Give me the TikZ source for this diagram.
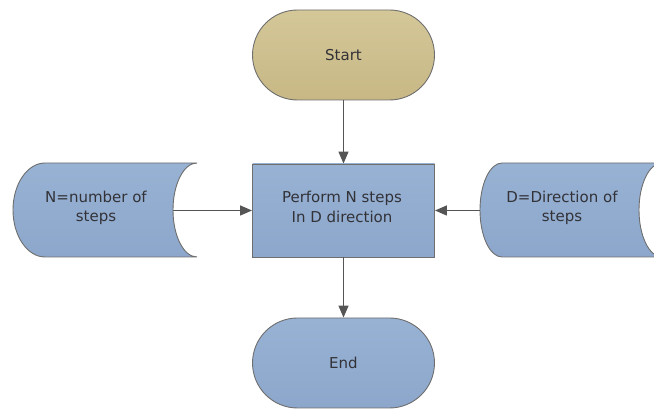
\documentclass[tikz,border=0pt]{standalone}
\usepackage{fontspec}
\setmainfont{DejaVu Sans}
\usetikzlibrary{arrows.meta}
\definecolor{tanTop}{RGB}{212,199,152}
\definecolor{tanBot}{RGB}{199,184,133}
\definecolor{blueTop}{RGB}{152,178,212}
\definecolor{blueBot}{RGB}{140,167,203}
\definecolor{edge}{RGB}{110,110,110}
\definecolor{wire}{RGB}{85,85,85}
\definecolor{ink}{RGB}{50,50,55}
\tikzset{
  tanfill/.style={top color=tanTop, bottom color=tanBot, draw=edge, line width=0.9pt},
  bluefill/.style={top color=blueTop, bottom color=blueBot, draw=edge, line width=0.9pt},
  label/.style={text=ink, font=\fontsize{15}{19.5}\selectfont, align=center, inner sep=0pt},
  terminal/.style={label, rounded corners=45pt, minimum width=182pt, minimum height=90pt},
  flow/.style={draw=wire, line width=1.4pt, -{Triangle[length=12pt,width=10pt]}},
}
\begin{document}
\begin{tikzpicture}[x=1pt,y=-1pt]
\useasboundingbox (0,0) rectangle (654,411);
\begin{scope}
\clip (0,0) rectangle (654,411);
% terminators
\node[terminal, tanfill] (start) at (343.5,55) {Start};
\node[terminal, bluefill] (stop) at (343.5,363) {End};
% process box
\node[label, bluefill, minimum width=182pt, minimum height=93pt] (proc) at (343.5,210.5) {};
\node[label] at (342,207) {Perform N steps\\In D direction};
% stored data, left
\path[bluefill] (45,163) -- (197,163)
  arc[start angle=270, end angle=90, x radius=24, y radius=47]
  -- (45,257)
  arc[start angle=90, end angle=270, x radius=32, y radius=47] -- cycle;
\node[label] (ndata) at (96,208) {N=number of\\steps};
\coordinate (nout) at (173,210.5);
% stored data, right
\path[bluefill] (502,163) -- (662,163)
  arc[start angle=270, end angle=90, x radius=23, y radius=47]
  -- (502,257)
  arc[start angle=90, end angle=270, x radius=22, y radius=47] -- cycle;
\node[label] (ddata) at (562,208) {D=Direction of\\steps};
\coordinate (dout) at (480,210.5);
\end{scope}
% connectors
\draw[flow] (start.south) -- (proc.north);
\draw[flow] (proc.south) -- (stop.north);
\draw[flow] (nout) -- (proc.west);
\draw[flow] (dout) -- (proc.east);
\end{tikzpicture}
\end{document}
